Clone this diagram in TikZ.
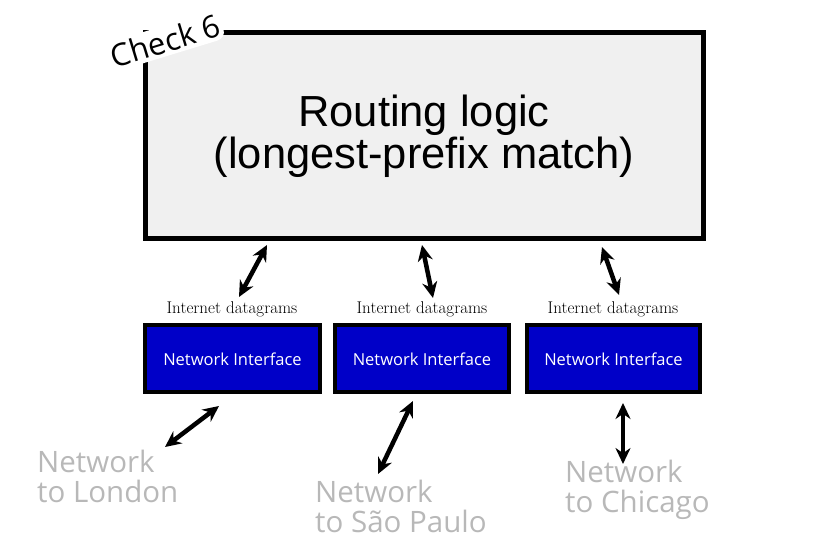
\documentclass[tikz,border=0pt]{standalone}
\usepackage{fontspec}
\setmainfont{Latin Modern Roman}
\newfontfamily\arialf{Liberation Sans}
\newfontfamily\opensf{Open Sans}
\usetikzlibrary{arrows.meta}
\definecolor{boxgray}{HTML}{F0F0F0}
\definecolor{nicblue}{HTML}{0000C8}
\definecolor{labgray}{HTML}{B8B8B8}
\tikzset{
  mainbox/.style={draw=black, line width=5pt, fill=boxgray},
  nicbox/.style={draw=black, line width=4pt, fill=nicblue},
  nictext/.style={text=white, font=\opensf\fontsize{16.5}{19}\selectfont},
  dglabel/.style={font=\fontsize{17}{19}\selectfont},
  netlabel/.style={text=labgray, font=\opensf\fontsize{29.5}{29.5}\selectfont, align=left, anchor=north west, inner sep=0pt},
  dbl/.style={line width=4.5pt, {Stealth[length=16pt,width=15pt]}-{Stealth[length=16pt,width=15pt]}}
}
\begin{document}
\begin{tikzpicture}[x=1pt,y=-1pt]
\useasboundingbox (0,0) rectangle (817,555);
% main box
\draw[mainbox] (145.5,32.5) rectangle (703.5,238.5);
\node[font=\arialf\fontsize{43.5}{42}\selectfont, align=center] (route) at (424,136) {Routing logic\\(longest-prefix match)};
% check label
\node[fill=white, rounded corners=9pt, rotate=17, font=\opensf\fontsize{31}{33}\selectfont, inner sep=3pt] (chk) at (165,41) {Check 6};
% network interfaces
\draw[nicbox] (145,325) rectangle (320,392);
\node[nictext] (nic1) at (232.5,359) {Network Interface};
\draw[nicbox] (335,325) rectangle (509,392);
\node[nictext] (nic2) at (422,359) {Network Interface};
\draw[nicbox] (527,325) rectangle (700,392);
\node[nictext] (nic3) at (613.5,359) {Network Interface};
% datagram labels
\node[dglabel] (dg1) at (232,309) {Internet datagrams};
\node[dglabel] (dg2) at (422,309) {Internet datagrams};
\node[dglabel] (dg3) at (613,309) {Internet datagrams};
% arrow coordinates
\coordinate (u1a) at (267,245);
\coordinate (u1b) at (239,297);
\coordinate (u2a) at (422,245);
\coordinate (u2b) at (433,298);
\coordinate (u3a) at (602,247);
\coordinate (u3b) at (619,295);
\coordinate (d1a) at (219,406);
\coordinate (d1b) at (165,447);
\coordinate (d2a) at (413,401);
\coordinate (d2b) at (378,474);
\coordinate (d3a) at (623,403);
\coordinate (d3b) at (623,464);
\draw[dbl] (u1a) -- (u1b);
\draw[dbl] (u2a) -- (u2b);
\draw[dbl] (u3a) -- (u3b);
\draw[dbl] (d1a) -- (d1b);
\draw[dbl] (d2a) -- (d2b);
\draw[dbl] (d3a) -- (d3b);
% network labels
\node[netlabel] (lon) at (37,450) {Network\\to London};
\node[netlabel] (sao) at (315,480) {Network\\to São Paulo};
\node[netlabel] (chi) at (565,460) {Network\\to Chicago};
\end{tikzpicture}
\end{document}
